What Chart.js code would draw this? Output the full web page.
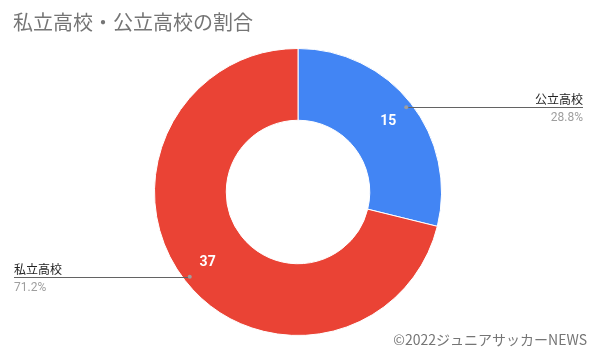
<!DOCTYPE html>
<html>
<head>
<meta charset="utf-8">
<script src="https://cdn.jsdelivr.net/npm/chart.js@4"></script>
<style>
  html, body { margin: 0; padding: 0; background: #fff; }
  #wrap { width: 600px; height: 353px; position: relative; }
</style>
</head>
<body>
<div id="wrap"><canvas id="pieChart"></canvas></div>
<script>
const titleText = '私立高校・公立高校の割合';
const labels = ['公立高校', '私立高校'];
const values = [15, 37];
const colors = ['#4285F4', '#EA4335'];
const creditText = '©2022ジュニアサッカーNEWS';

const jp = "'Noto Sans CJK JP', 'Noto Sans', sans-serif";

// タイトル・ラベル・引き出し線を描くプラグイン
const labelPlugin = {
    id: 'labelPlugin',
    afterDraw(chart) {
        const c = chart.ctx;
        const meta = chart.getDatasetMeta(0);
        const total = values.reduce((a, b) => a + b, 0);
        c.save();
        // タイトル
        c.fillStyle = '#757575';
        c.font = '20px ' + jp;
        c.textBaseline = 'middle';
        c.textAlign = 'left';
        c.fillText(titleText, 13, 22);

        meta.data.forEach((arc, i) => {
            const p = arc.getProps(['x', 'y', 'startAngle', 'endAngle', 'innerRadius', 'outerRadius'], true);
            const mid = (p.startAngle + p.endAngle) / 2;
            const rv = p.innerRadius + (p.outerRadius - p.innerRadius) * 0.6;
            // 値
            c.fillStyle = '#fff';
            c.font = 'bold 14px Roboto, Arial, sans-serif';
            c.textAlign = 'center';
            c.textBaseline = 'middle';
            c.fillText(values[i], p.x + Math.cos(mid) * rv, p.y + Math.sin(mid) * rv);

            // 引き出し線
            const rp = p.outerRadius - 6;
            const px = p.x + Math.cos(mid) * rp;
            const py = p.y + Math.sin(mid) * rp;
            const right = Math.cos(mid) >= 0;
            const endX = right ? 583 : 14;
            c.strokeStyle = '#636363';
            c.lineWidth = 1;
            c.beginPath();
            c.moveTo(px, Math.round(py) + 0.5);
            c.lineTo(endX, Math.round(py) + 0.5);
            c.stroke();
            c.fillStyle = '#9e9e9e';
            c.beginPath();
            c.arc(px, py, 2, 0, Math.PI * 2);
            c.fill();

            c.textAlign = right ? 'right' : 'left';
            c.textBaseline = 'alphabetic';
            c.fillStyle = '#222';
            c.font = '12px ' + jp;
            c.fillText(labels[i], endX, Math.round(py) - 3);
            c.fillStyle = '#9e9e9e';
            c.font = '12px Roboto, Arial, sans-serif';
            c.fillText((values[i] / total * 100).toFixed(1) + '%', endX, Math.round(py) + 14);
        });

        // クレジット
        c.fillStyle = '#757575';
        c.font = '14px ' + jp;
        c.textAlign = 'right';
        c.textBaseline = 'middle';
        c.fillText(creditText, 587, 340);
        c.restore();
    }
};

const ctx = document.getElementById('pieChart').getContext('2d');
const pieChart = new Chart(ctx, {
    type: 'doughnut',
    data: {
        labels: labels,
        datasets: [{
            data: values,
            backgroundColor: colors,
            borderColor: '#fff',
            borderWidth: 1
        }]
    },
    options: {
        responsive: true,
        maintainAspectRatio: false,
        animation: false,
        cutout: '50%',
        layout: { padding: { top: 48, bottom: 17, left: 0, right: 4 } },
        plugins: {
            legend: { display: false },
            tooltip: { enabled: false }
        }
    },
    plugins: [labelPlugin]
});
</script>
</body>
</html>
